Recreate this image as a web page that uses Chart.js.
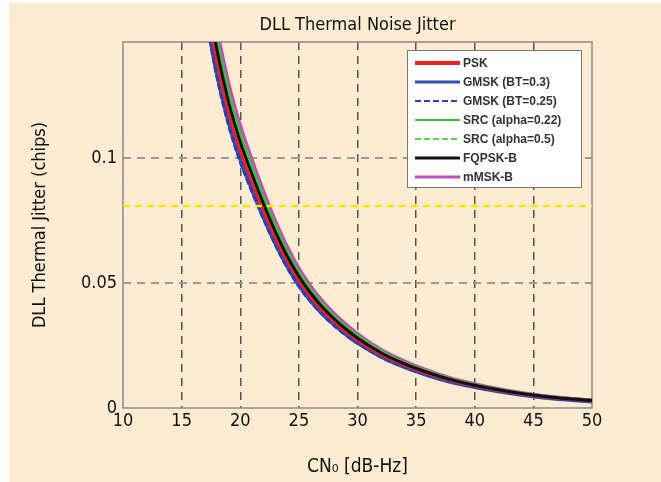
<!DOCTYPE html>
<html>
<head>
<meta charset="utf-8">
<script src="https://cdn.jsdelivr.net/npm/chart.js@4/dist/chart.umd.min.js"></script>
<style>
    html, body { margin: 0; padding: 0; background: #ffffff; }
    #wrap { position: absolute; left: 9px; top: 3px; width: 652px; height: 479px; background: #fdecd2; }
</style>
</head>
<body>
<div id="wrap"><canvas id="jitterChart" width="652" height="479"></canvas></div>
<script>
// CN0 sample points [dB-Hz]
const cn0 = [17, 18, 19, 20, 21, 22, 23, 24, 25, 26, 27, 28, 29, 30, 32, 34, 36, 38, 40, 42, 44, 46, 48, 50];

// jitter in chips
const psk      = [0.165, 0.1385, 0.1182, 0.1028, 0.0902, 0.0786, 0.0680, 0.0587, 0.0509, 0.0444, 0.0390, 0.0345, 0.0305, 0.0270, 0.0213, 0.0171, 0.0137, 0.0109, 0.0088, 0.0070, 0.0056, 0.0044, 0.0036, 0.0029];
const gmsk03   = [0.161, 0.1349, 0.1152, 0.1001, 0.0879, 0.0766, 0.0663, 0.0572, 0.0495, 0.0432, 0.0380, 0.0336, 0.0297, 0.0263, 0.0208, 0.0166, 0.0133, 0.0106, 0.0086, 0.0069, 0.0055, 0.0043, 0.0035, 0.0028];
const gmsk025  = [0.158, 0.1327, 0.1133, 0.0985, 0.0865, 0.0754, 0.0652, 0.0562, 0.0487, 0.0426, 0.0374, 0.0330, 0.0292, 0.0259, 0.0204, 0.0164, 0.0131, 0.0105, 0.0084, 0.0068, 0.0054, 0.0043, 0.0034, 0.0028];
const src022   = [0.177, 0.1485, 0.1268, 0.1102, 0.0968, 0.0844, 0.0730, 0.0629, 0.0545, 0.0476, 0.0418, 0.0369, 0.0327, 0.0290, 0.0229, 0.0183, 0.0147, 0.0117, 0.0094, 0.0076, 0.0060, 0.0048, 0.0038, 0.0031];
const src05    = [0.174, 0.1464, 0.1250, 0.1086, 0.0954, 0.0831, 0.0719, 0.0620, 0.0538, 0.0469, 0.0412, 0.0364, 0.0322, 0.0286, 0.0225, 0.0181, 0.0145, 0.0115, 0.0093, 0.0074, 0.0059, 0.0047, 0.0038, 0.0031];
const fqpsk    = [0.171, 0.1435, 0.1225, 0.1065, 0.0935, 0.0815, 0.0705, 0.0608, 0.0527, 0.0460, 0.0404, 0.0357, 0.0316, 0.0280, 0.0221, 0.0177, 0.0142, 0.0113, 0.0091, 0.0073, 0.0058, 0.0046, 0.0037, 0.0030];
const mmsk     = [0.182, 0.1528, 0.1305, 0.1134, 0.0996, 0.0868, 0.0751, 0.0648, 0.0561, 0.0490, 0.0430, 0.0380, 0.0337, 0.0298, 0.0235, 0.0189, 0.0151, 0.0120, 0.0097, 0.0078, 0.0062, 0.0049, 0.0039, 0.0032];

// yellow dashed threshold
const threshold = 0.0808;
const xRange = [10, 50];
const xTicks = [10, 15, 20, 25, 30, 35, 40, 45, 50];
const yTicks = [0, 0.05, 0.1];

const condensed = "'Liberation Sans Narrow', 'DejaVu Sans Condensed', 'Roboto Condensed', sans-serif";

function pts(ys) {
    return cn0.map((x, i) => ({ x: x, y: ys[i] }));
}

function series(label, ys, color, width, dash, order) {
    return {
        label: label,
        data: pts(ys),
        borderColor: color,
        backgroundColor: color,
        borderWidth: width,
        borderDash: dash,
        pointRadius: 0,
        cubicInterpolationMode: 'monotone',
        order: order
    };
}

// title centred over the plot box
const plotTitle = {
    id: 'plotTitle',
    afterDraw(chart) {
        const c = chart.ctx;
        const a = chart.chartArea;
        c.save();
        c.font = '18px ' + condensed;
        c.fillStyle = '#111111';
        c.textAlign = 'center';
        c.textBaseline = 'middle';
        c.fillText('DLL Thermal Noise Jitter', (a.left + a.right) / 2, 22);
        c.restore();
    }
};

// legend box drawn inside the plot, like the matlab one
const boxLegend = {
    id: 'boxLegend',
    afterDraw(chart) {
        const c = chart.ctx;
        const a = chart.chartArea;
        const left = a.right - 185, top = a.top + 8, w = 174, h = 137;
        c.save();
        c.fillStyle = '#ffffff';
        c.fillRect(left, top, w, h);
        c.strokeStyle = '#777777';
        c.lineWidth = 1;
        c.strokeRect(left + 0.5, top + 0.5, w, h);
        c.font = 'bold 12px "Liberation Sans", Arial, sans-serif';
        c.textBaseline = 'middle';
        chart.data.datasets.forEach(ds => {
            if (!ds.inLegend) return;
            const y = top + 13 + (ds.inLegend - 1) * 19;
            c.beginPath();
            c.strokeStyle = ds.borderColor;
            c.lineWidth = ds.legendWidth;
            c.setLineDash(ds.borderDash || []);
            c.moveTo(left + 8, y);
            c.lineTo(left + 53, y);
            c.stroke();
            c.setLineDash([]);
            c.fillStyle = '#333333';
            c.fillText(ds.label, left + 56, y + 1);
        });
        c.restore();
    }
};

// box around the plot
const frame = {
    id: 'frame',
    beforeDatasetsDraw(chart) {
        const c = chart.ctx;
        const a = chart.chartArea;
        c.save();
        c.strokeStyle = '#8a8a8a';
        c.lineWidth = 1.5;
        c.strokeRect(a.left, a.top, a.right - a.left, a.bottom - a.top);
        c.restore();
    }
};

const ctx = document.getElementById('jitterChart').getContext('2d');

const datasets = [
    series('PSK', psk, '#ee2222', 3, [], 2),
    series('GMSK (BT=0.3)', gmsk03, '#2f4fb8', 5, [], 6),
    series('GMSK (BT=0.25)', gmsk025, '#2540b0', 3, [6, 3], 5),
    series('SRC (alpha=0.22)', src022, '#3cc03c', 2.5, [], 3),
    series('SRC (alpha=0.5)', src05, '#5ccc4c', 2, [6, 3], 3),
    series('FQPSK-B', fqpsk, '#111111', 3, [], 1),
    series('mMSK-B', mmsk, '#c050b8', 3, [], 4),
    {
        label: 'threshold',
        data: [{ x: xRange[0], y: threshold }, { x: xRange[1], y: threshold }],
        borderColor: '#f4e800',
        borderWidth: 2.5,
        borderDash: [7, 5],
        pointRadius: 0,
        order: 0
    }
];
const legendWidths = [4, 3, 2, 2, 2, 3, 3];
datasets.forEach((ds, i) => {
    if (i < 7) { ds.inLegend = i + 1; ds.legendWidth = legendWidths[i]; }
});

new Chart(ctx, {
    type: 'line',
    data: { datasets: datasets },
    options: {
        responsive: false,
        animation: false,
        layout: { padding: { top: 39, right: 69, bottom: 0, left: 0 } },
        plugins: {
            legend: { display: false },
            tooltip: { enabled: false },
            title: { display: false }
        },
        scales: {
            x: {
                type: 'linear',
                min: xRange[0],
                max: xRange[1],
                afterBuildTicks: s => { s.ticks = xTicks.map(v => ({ value: v })); },
                afterFit: s => { s.height = 74; },
                ticks: {
                    color: '#111111',
                    padding: 3,
                    font: { family: condensed, size: 18 }
                },
                grid: {
                    drawTicks: false,
                    color: c => (c.tick.value > xRange[0] && c.tick.value < xRange[1]) ? '#555555' : 'rgba(0,0,0,0)',
                    lineWidth: 1.5
                },
                border: { display: false, dash: [8, 6] },
                title: {
                    display: true,
                    text: 'CN\u2080 [dB-Hz]',
                    color: '#111111',
                    font: { family: condensed, size: 19 },
                    padding: { top: 8, bottom: 4 }
                }
            },
            y: {
                type: 'linear',
                min: 0,
                max: 0.1464,
                afterBuildTicks: s => { s.ticks = yTicks.map(v => ({ value: v })); },
                afterFit: s => { s.width = 114; },
                ticks: {
                    color: '#111111',
                    padding: 6,
                    font: { family: condensed, size: 18 },
                    callback: v => String(v)
                },
                grid: {
                    drawTicks: false,
                    color: c => (c.tick.value > 0) ? '#9a9a9a' : 'rgba(0,0,0,0)',
                    lineWidth: 2
                },
                border: { display: false, dash: [8, 6] },
                title: {
                    display: true,
                    text: 'DLL Thermal Jitter (chips)',
                    color: '#111111',
                    font: { family: condensed, size: 18 },
                    padding: { top: 21, bottom: 0 }
                }
            }
        }
    },
    plugins: [frame, plotTitle, boxLegend]
});
</script>
</body>
</html>
